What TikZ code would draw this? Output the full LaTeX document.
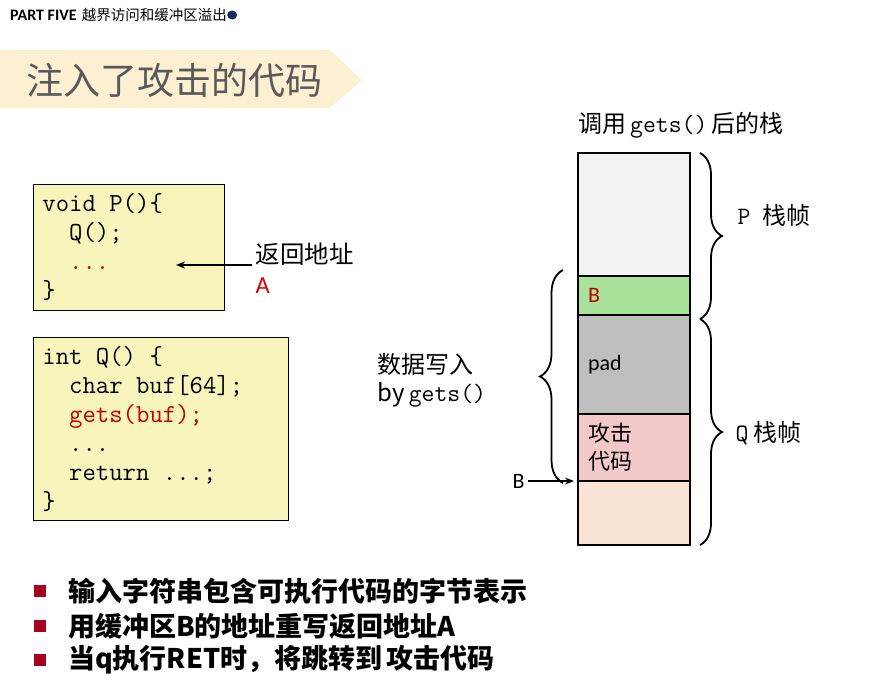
\documentclass[tikz,border=0pt]{standalone}
\usepackage{fontspec}
\setmainfont{Noto Sans CJK SC}
\setmonofont{Latin Modern Mono}[WordSpace={1,0,0}]
\newfontfamily\calfont{Carlito}
\usepackage{tikz}
\usetikzlibrary{positioning, decorations.pathreplacing, arrows.meta}

\definecolor{banner}{HTML}{FDF0D2}
\definecolor{codebg}{HTML}{F7F4BC}
\definecolor{codered}{HTML}{C00000}
\definecolor{navy}{HTML}{132F5E}
\definecolor{cellgray}{HTML}{F2F2F2}
\definecolor{cellgreen}{HTML}{A9E29A}
\definecolor{cellpad}{HTML}{BFBFBF}
\definecolor{cellpink}{HTML}{F2C8C8}
\definecolor{cellpeach}{HTML}{FBE4D6}
\definecolor{bulletred}{HTML}{A5001E}

\newcommand{\monotxt}[1]{{\ttfamily\fontsize{25}{27}\selectfont #1}}
\newcommand{\csp}{\hphantom{x}}

\tikzset{
  codebox/.style={draw, fill=codebg, line width=0.8pt, anchor=north west, align=left,
    inner xsep=9pt, inner ysep=0pt, font=\ttfamily\fontsize{26}{29}\selectfont},
  cell/.style={draw, line width=2.5pt, minimum width=112pt, minimum height=#1,
    outer sep=0pt, inner xsep=10pt, text width=92pt, align=left,
    font=\fontsize{22}{28}\selectfont},
  brace/.style={decorate, decoration={brace, amplitude=#1}, line width=1.8pt},
  lbl/.style={anchor=west, font=\fontsize{24}{28}\selectfont},
  bsq/.style={fill=bulletred, minimum size=12pt, inner sep=0pt},
}

\begin{document}
\begin{tikzpicture}[x=1pt, y=-1pt]
    \useasboundingbox (0,0) rectangle (891,694);

    % Header line
    \node[anchor=west, inner sep=0pt, font=\calfont\bfseries\fontsize{16}{18}\selectfont] (part) at (10,15) {PART FIVE};
    \node[anchor=west, inner sep=0pt, font=\fontsize{14.5}{16}\selectfont, right=5pt of part] (chap) {越界访问和缓冲区溢出};
    \fill[navy] ([xshift=5pt]chap.east) circle [x radius=5pt, y radius=4.5pt];

    % Title banner
    \fill[banner] (0,50) -- (330,50) -- (362,80) -- (330,108) -- (0,108) -- cycle;
    \node[anchor=west, inner sep=0pt, text=black!65, font=\fontsize{37}{40}\selectfont] (title) at (26,80) {注入了攻击的代码};

    % Code of P and Q
    \node[codebox, text width=173pt, minimum height=126pt] (pbox) at (33,184)
      {void\csp P()\{\\
       \csp\csp Q();\\
       \csp\csp\textcolor{codered}{...}\\
       \}};
    \node[codebox, text width=237pt, minimum height=183pt] (qbox) at (33,337)
      {int\csp Q()\csp\{\\
       \csp\csp char\csp buf[64];\\
       \csp\csp\textcolor{codered}{gets(buf);}\\
       \csp\csp...\\
       \csp\csp return\csp...;\\
       \}};

    % Return address
    \node[anchor=west, align=left, font=\fontsize{24.5}{30}\selectfont] (ret) at (252,268)
      {返回地址\\ \textcolor{red!85!black}{\calfont A}};
    \coordinate (retpt) at (176,265);
    \draw[-{Stealth[length=9pt, width=7pt]}, line width=2pt] (ret.west |- retpt) -- (retpt);

    % Stack after gets()
    \node[lbl, inner sep=0pt] (stitle) at (578,125) {调用\,\monotxt{gets()}\,后的栈};
    \node[cell=123pt, fill=cellgray] (top) at (634,214.5) {};
    \node[cell=39pt, fill=cellgreen, below=0pt of top] (bcell) {\textcolor{codered}{\calfont B}};
    \node[cell=99pt, fill=cellpad, below=0pt of bcell] (pad) {\calfont pad};
    \node[cell=67pt, fill=cellpink, below=0pt of pad] (atk) {攻击\\代码};
    \node[cell=64pt, fill=cellpeach, below=0pt of atk] (bot) {};

    % Frames
    \draw[brace=22pt] ([xshift=10pt]top.north east) -- ([xshift=10pt, yshift=-4pt]bcell.south east);
    \draw[brace=22pt] ([xshift=10pt, yshift=-4pt]bcell.south east) -- ([xshift=10pt]bot.south east);
    \node[lbl] (pframe) at (734,215) {\monotxt{P}\enspace 栈帧};
    \node[lbl] (qframe) at (732,433) {\monotxt{Q} 栈帧};

    % Data written by gets()
    \draw[brace=23pt] ([xshift=-15pt, yshift=-2pt]bot.north west) -- ([xshift=-15pt, yshift=6pt]bcell.north west);
    \node[lbl, align=left] (data) at (374,380)
      {数据写入\\ by\,\monotxt{gets()}};
    \coordinate (bpt) at ([xshift=-4pt]bot.north west);
    \node[font=\calfont\fontsize{22}{24}\selectfont, left=46pt of bpt] (blabel) {B};
    \draw[-{Stealth[length=9pt, width=7pt]}, line width=1.8pt] (blabel) -- (bpt);

    % Bullet points
    \foreach \i/\y/\t in {1/591/输入字符串包含可执行代码的字节表示, 2/626/用缓冲区B的地址重写返回地址A, 3/660/当q执行RET时，将跳转到\,攻击代码} {
      \node[bsq] (sq\i) at (40,\y) {};
      \node[anchor=west, inner sep=0pt, font=\bfseries\fontsize{27}{30}\selectfont] (item\i) at (68,\y) {\t};
    }
\end{tikzpicture}
\end{document}
